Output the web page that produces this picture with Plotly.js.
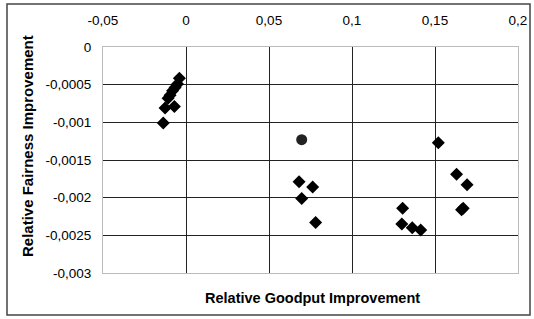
<!DOCTYPE html>
<html>
<head>
<meta charset="utf-8">
<script src="https://cdn.plot.ly/plotly-3.0.1.min.js"></script>
<style>
html,body{margin:0;padding:0;background:#fff;}
#chart{width:534px;height:319px;}
</style>
</head>
<body>
<div id="chart"></div>
<script>
// Diamond series (goodput vs fairness improvement)
const diamondX = [-0.0040, -0.0051, -0.0066, -0.0081, -0.0096, -0.0108, -0.0126, -0.0070, -0.0137,
                  0.0681, 0.0763, 0.0697, 0.0781,
                  0.1520, 0.1630, 0.1693, 0.1670, 0.1660, 0.1305, 0.1300, 0.1363, 0.1414];
const diamondY = [-0.000415, -0.00049, -0.000537, -0.00058, -0.00064, -0.00068, -0.00081, -0.00079, -0.00101,
                  -0.00179, -0.00186, -0.00201, -0.00233,
                  -0.00127, -0.00169, -0.00183, -0.00214, -0.00216, -0.00214, -0.00235, -0.0024, -0.00243];
// Circle series
const circleX = [0.0697];
const circleY = [-0.00123];

const xTickVals = [-0.05, 0, 0.05, 0.1, 0.15, 0.2];
const xTickText = ['-0,05', '0', '0,05', '0,1', '0,15', '0,2'];
const yTickVals = [0, -0.0005, -0.001, -0.0015, -0.002, -0.0025, -0.003];
const yTickText = ['0', '-0,0005', '-0,001', '-0,0015', '-0,002', '-0,0025', '-0,003'];

const traces = [
  {x: diamondX, y: diamondY, type: 'scatter', mode: 'markers',
   marker: {symbol: 'diamond', size: 10, color: '#000'}, cliponaxis: false},
  {x: circleX, y: circleY, type: 'scatter', mode: 'markers',
   marker: {symbol: 'circle', size: 11, color: '#222'}, cliponaxis: false}
];

const fam = 'Liberation Sans, Arial, sans-serif';
const tickFont = {family: fam, size: 13.5, color: '#000'};

const layout = {
  width: 534, height: 319,
  margin: {l: 103, r: 16, t: 47, b: 46, pad: 0},
  paper_bgcolor: '#fff', plot_bgcolor: '#fff',
  showlegend: false,
  font: {family: fam, size: 13, color: '#000'},
  xaxis: {
    side: 'top', range: [-0.05, 0.2], tickvals: xTickVals, ticktext: xTickText,
    showgrid: true, gridcolor: '#222', gridwidth: 1,
    zeroline: false, showline: true, linecolor: '#bbb', mirror: true,
    ticks: 'outside', ticklen: 16, tickcolor: 'rgba(0,0,0,0)', tickfont: tickFont,
    fixedrange: true
  },
  yaxis: {
    range: [-0.003, 0], tickvals: yTickVals, ticktext: yTickText,
    showgrid: true, gridcolor: '#222', gridwidth: 1,
    zeroline: false, showline: true, linecolor: '#bbb', mirror: true,
    ticks: 'outside', ticklen: 8, tickcolor: 'rgba(0,0,0,0)',
    tickfont: tickFont,
    fixedrange: true
  },
  annotations: [
    {text: '<b>Relative Goodput Improvement</b>', xref: 'paper', yref: 'paper',
     x: (312 - 103) / 415, y: (273 - 298) / 226, xanchor: 'center', yanchor: 'middle', showarrow: false,
     font: {family: fam, size: 14.5, color: '#000'}},
    {text: '<b>Relative Fairness Improvement</b>', xref: 'paper', yref: 'paper',
     x: (27 - 103) / 415, y: (273 - 146) / 226, xanchor: 'center', yanchor: 'middle', showarrow: false,
     textangle: -90, font: {family: fam, size: 15, color: '#000'}}
  ],
  shapes: [
    {type: 'rect', xref: 'paper', yref: 'paper',
     x0: (7 - 103) / 415, x1: (530 - 103) / 415,
     y0: (273 - 315) / 226, y1: (273 - 4) / 226,
     line: {color: '#444', width: 1.5}, fillcolor: 'rgba(0,0,0,0)', layer: 'below'}
  ]
};

Plotly.newPlot('chart', traces, layout, {displayModeBar: false, staticPlot: true});
</script>
</body>
</html>
